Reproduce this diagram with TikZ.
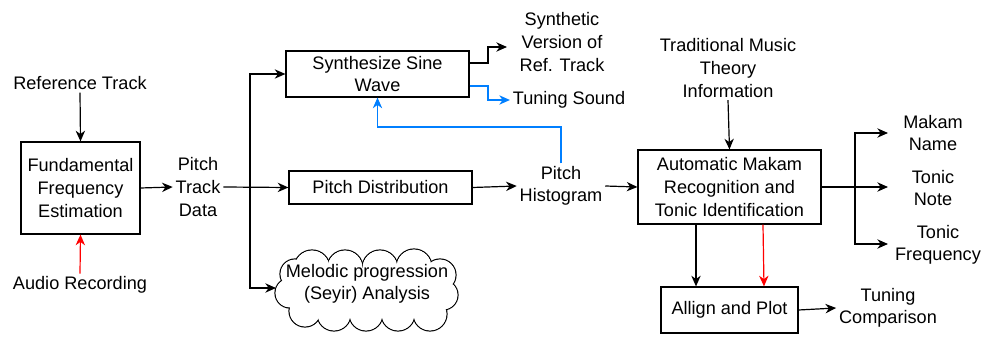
\documentclass[tikz,border=0pt]{standalone}
\usepackage{fontspec}
\setmainfont{Liberation Sans}
\usetikzlibrary{arrows.meta,calc}
\definecolor{myblue}{HTML}{007FFF}
\definecolor{myred}{HTML}{FF0000}
\begin{document}
\begin{tikzpicture}[x=0.75pt,y=-0.75pt,
  every node/.style={font=\fontsize{13.6}{16.9}\selectfont, align=center, inner sep=2pt},
  box/.style={draw, line width=0.9pt, inner sep=2pt},
  lbl/.style={},
  arr/.style={line width=0.9pt, -{Stealth[length=8pt,width=7pt,inset=2.5pt]}},
  ln/.style={line width=0.9pt},
  barr/.style={arr, draw=myblue, -{Stealth[length=8pt,width=7pt,inset=2.5pt,fill=myblue]}},
  rarr/.style={arr, draw=myred, -{Stealth[length=8pt,width=7pt,inset=2.5pt,fill=myred]}}]
\useasboundingbox (0,0) rectangle (983,338);

% cloud outline (union of puffs)
\def\puffs{312/268/18, 345/268/18, 380/268/18, 414/267/18, 440/275/16, 443/295/15,
  430/314/17, 398/314/17, 366/314/17, 334/314/17, 305/311/16, 290/293/15, 295/274/15}
\foreach \px/\py/\pr in \puffs
  \draw[line width=0.9pt] (\px,\py) circle[radius=\pr];
\foreach \px/\py/\pr in \puffs
  \fill[white] (\px,\py) circle[radius=\pr-0.6];
\fill[white] (312,268) -- (345,268) -- (380,268) -- (414,267) -- (440,275) -- (443,295)
  -- (430,314) -- (398,314) -- (366,314) -- (334,314) -- (305,311) -- (290,293) -- (295,274) -- cycle;

% nodes
\node[lbl] (ref) at (80,83) {Reference Track};
\node[box, minimum width=89.25pt, minimum height=69pt] (ffe) at (80.5,188) {Fundamental\\Frequency\\Estimation};
\node[lbl] (audio) at (80,285) {Audio Recording};
\node[lbl] (ptd) at (198,187) {Pitch\\Track\\Data};
\node[box, minimum width=137.25pt, minimum height=34.5pt] (synth) at (377.5,74) {Synthesize Sine\\Wave};
\node[box, minimum width=137.25pt, minimum height=24.75pt] (pd) at (380.5,187.5) {Pitch Distribution};
\node[lbl] (cloud) at (367,284) {Melodic progression\\(Seyir) Analysis};
\node[lbl] (synv) at (562,42) {Synthetic\\Version of\\Ref. Track};
\node[lbl] (tsound) at (569,100) {Tuning Sound};
\node[lbl] (ph) at (561,186) {Pitch\\Histogram};
\node[lbl] (tmti) at (728,68) {Traditional Music\\Theory\\Information};
\node[box, minimum width=137.25pt, minimum height=55.5pt] (amr) at (729.5,187) {Automatic Makam\\Recognition and\\Tonic Identification};
\node[box, minimum width=102.75pt, minimum height=34.5pt] (ap) at (729.5,310) {Allign and Plot};
\node[lbl] (mn) at (933,133) {Makam\\Name};
\node[lbl] (tn) at (933,188) {Tonic\\Note};
\node[lbl] (tf) at (938,245) {Tonic\\Frequency};
\node[lbl] (tc) at (888,308) {Tuning\\Comparison};

% helper coordinates
\coordinate (br) at (250,187);
\coordinate (cloudin) at (276,288);
\coordinate (synvin) at (507,47);
\coordinate (br2) at (855,187);
\coordinate (mnin) at (888,133);
\coordinate (tnin) at (888,187);
\coordinate (tfin) at (888,244);

% connectors
\draw[arr] (ref.south) -- (ffe.north);
\draw[rarr] (audio.north) -- (ffe.south);
\draw[arr] (ffe.east) -- (ptd.west);
\draw[arr] (ptd.east) -- (pd.west);
\draw[arr] (br) |- (synth.west);
\draw[arr] (br) |- (cloudin);
\draw[arr] (synth.east |- 0,63) -- (488,63) |- (synvin);
\draw[barr] (synth.east |- 0,86) -- (488,86) |- (tsound.west);
\draw[barr] (ph.north) -- (ph.north |- 0,127) -| (synth.south);
\draw[arr] (pd.east) -- (ph.west);
\draw[arr] (ph.east) -- (amr.west);
\draw[arr] (tmti.south) -- (amr.north);
\draw[ln] (amr.east) -- (br2);
\draw[arr] (br2) |- (mnin);
\draw[arr] (br2) -- (tnin);
\draw[arr] (br2) |- (tfin);
\draw[arr] (amr.south -| 696,0) -- (ap.north -| 696,0);
\draw[rarr] (amr.south -| 763,0) -- (ap.north -| 764,0);
\draw[arr] (ap.east) -- (tc.west);
\end{tikzpicture}
\end{document}
